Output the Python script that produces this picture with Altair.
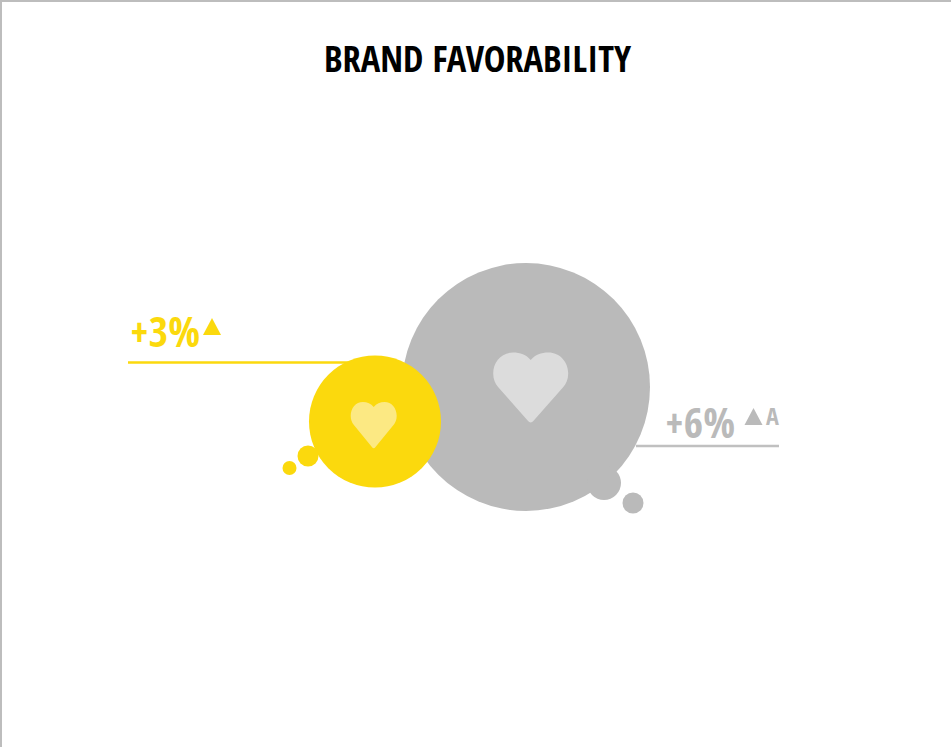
import altair as alt
import pandas as pd

YELLOW = "#FBD90D"
GRAY = "#BABABA"
FONT = "Open Sans Condensed"
W, H = 951, 747

# Main bubbles and their satellites
bubble_x = [526, 604, 633, 375, 308, 289.5]
bubble_y = [387, 483, 503, 421.5, 456, 468]
bubble_r = [124, 17, 10.5, 66, 10.5, 7]
bubble_color = [GRAY, GRAY, GRAY, YELLOW, YELLOW, YELLOW]

# Rules that carry the labels; both run underneath the bubbles
rule_x = [128, 636]
rule_x2 = [360, 779]
rule_y = [362.5, 446]
rule_color = [YELLOW, "#C0C0C0"]

triangle_x = [212, 753.5]
triangle_y = [326.5, 416.5]
triangle_color = [YELLOW, GRAY]

value_text = ["+3%", "+6%"]
value_x = [130, 665]
value_y = [346.5, 437.5]
value_color = [YELLOW, GRAY]


def heart_path(k):
    """Heart outline in unit coordinates, stretched vertically by k."""
    points = [
        "M", (0, -0.73), "C", (0.12, -0.87), (0.28, -0.93), (0.47, -0.93),
        "C", (0.78, -0.93), (1, -0.68), (1, -0.37), "C", (1, -0.22), (0.95, -0.1), (0.87, -0.01),
        "L", (0.07, 0.9), "C", (0.03, 0.95), (-0.03, 0.95), (-0.07, 0.9),
        "L", (-0.87, -0.01), "C", (-0.95, -0.1), (-1, -0.22), (-1, -0.37),
        "C", (-1, -0.68), (-0.78, -0.93), (-0.47, -0.93), "C", (-0.28, -0.93), (-0.12, -0.87), (0, -0.73),
    ]
    parts = [p if isinstance(p, str) else f"{p[0]},{p[1] * k:.3f}" for p in points]
    return " ".join(parts) + " Z"


TRIANGLE = "M0,-0.94 L1,0.94 L-1,0.94 Z"

x_scale = alt.Scale(domain=[0, W], range=[0, W], nice=False, zero=False)
y_scale = alt.Scale(domain=[0, H], range=[0, H], nice=False, zero=False)
X = alt.X("x:Q", scale=x_scale, axis=None)
Y = alt.Y("y:Q", scale=y_scale, axis=None)
COLOR = alt.Color("color:N", scale=None, legend=None)
SIZE = alt.Size("size:Q", scale=None, legend=None)

bubbles = pd.DataFrame(
    {"x": bubble_x, "y": bubble_y, "size": [(2 * r) ** 2 for r in bubble_r], "color": bubble_color}
)
rules = pd.DataFrame({"x": rule_x, "x2": rule_x2, "y": rule_y, "color": rule_color})
triangles = pd.DataFrame({"x": triangle_x, "y": triangle_y, "color": triangle_color})
values = pd.DataFrame({"x": value_x, "y": value_y, "text": value_text, "color": value_color})
frame = pd.DataFrame({"x": [0, 1], "x2": [W, 1], "y": [1, 0], "y2": [1, H]})

frame_layer = alt.Chart(frame).mark_rule(color="#BDBDBD", strokeWidth=2).encode(
    x=X, x2="x2:Q", y=Y, y2="y2:Q"
)
rule_layer = alt.Chart(rules).mark_rule(strokeWidth=2.6).encode(x=X, x2="x2:Q", y=Y, color=COLOR)
bubble_layer = alt.Chart(bubbles).mark_point(filled=True, opacity=1, shape="circle").encode(
    x=X, y=Y, color=COLOR, size=SIZE
)
# The gray group goes first so the yellow bubble overlaps it
gray_layer = bubble_layer.transform_filter(alt.datum.color == GRAY)
yellow_layer = bubble_layer.transform_filter(alt.datum.color == YELLOW)
heart_gray = alt.Chart(pd.DataFrame({"x": [530.7], "y": [387.3]})).mark_point(
    filled=True, opacity=1, shape=heart_path(1), size=75**2, color="#DCDCDC"
).encode(x=X, y=Y)
heart_yellow = alt.Chart(pd.DataFrame({"x": [373.7], "y": [425]})).mark_point(
    filled=True, opacity=1, shape=heart_path(1.08), size=46**2, color="#FCE983"
).encode(x=X, y=Y)
triangle_layer = alt.Chart(triangles).mark_point(filled=True, opacity=1, shape=TRIANGLE, size=324).encode(
    x=X, y=Y, color=COLOR
)
value_layer = alt.Chart(values).mark_text(
    font=FONT, fontWeight="bold", fontSize=42, align="left", baseline="alphabetic"
).encode(x=X, y=Y, text="text:N", color=COLOR)
note_layer = alt.Chart(pd.DataFrame({"x": [766], "y": [425], "text": ["A"]})).mark_text(
    font=FONT, fontWeight="bold", fontSize=24, align="left", baseline="alphabetic", color=GRAY
).encode(x=X, y=Y, text="text:N")
title_layer = alt.Chart(pd.DataFrame({"x": [477.5], "y": [71.5], "text": ["BRAND FAVORABILITY"]})).mark_text(
    font=FONT, fontWeight="bold", fontSize=36.5, align="center", baseline="alphabetic", color="#000000"
).encode(x=X, y=Y, text="text:N")

chart = (
    alt.layer(
        frame_layer, rule_layer, gray_layer, yellow_layer,
        heart_gray, heart_yellow, triangle_layer, value_layer, note_layer, title_layer,
    )
    .properties(width=W, height=H, padding=0, autosize=alt.AutoSizeParams(type="none"), background="#FFFFFF")
    .configure_view(stroke=None)
)

chart.save("out.html", embed_options={"renderer": "svg", "actions": False})
